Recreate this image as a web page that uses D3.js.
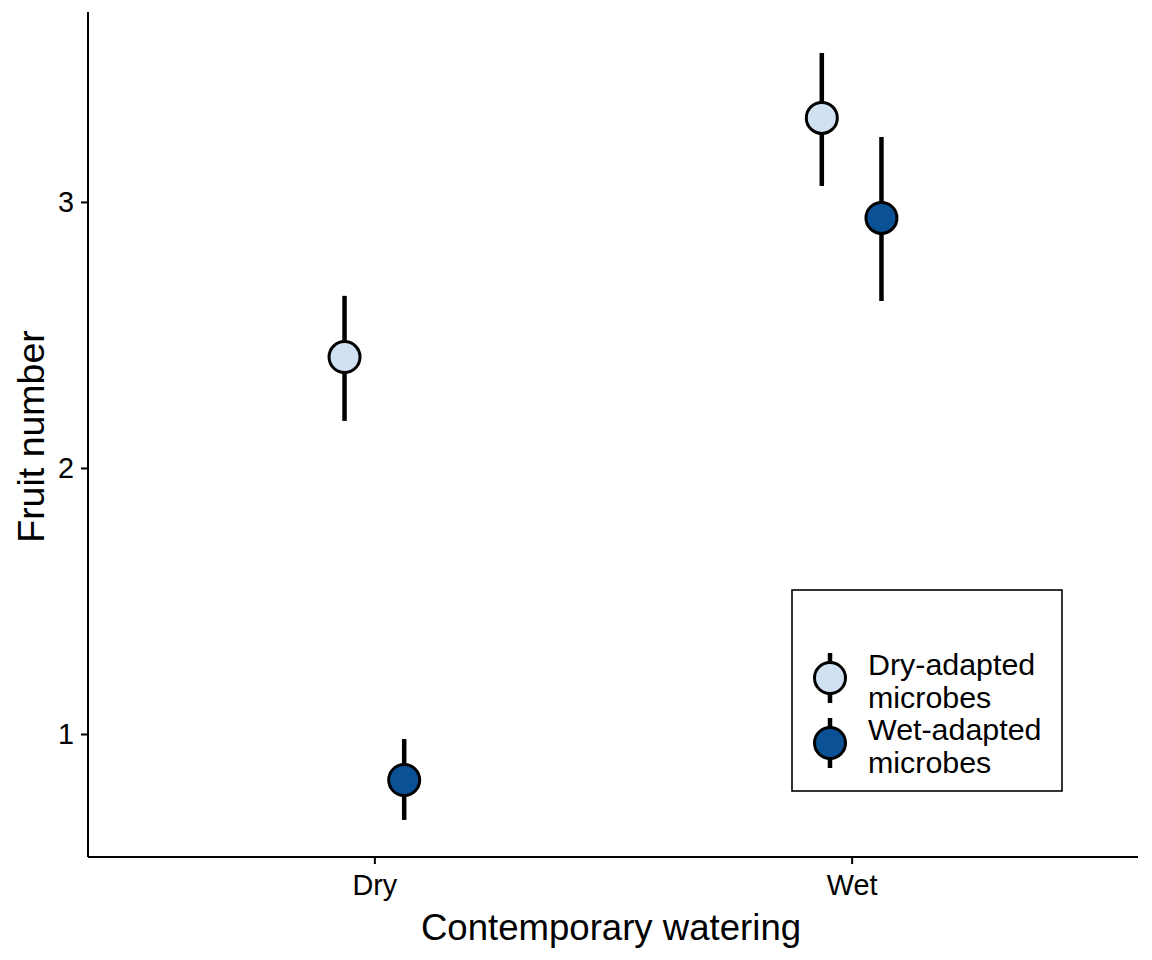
<!DOCTYPE html>
<html>
<head>
<meta charset="utf-8">
<script src="https://cdn.jsdelivr.net/npm/d3@7"></script>
<style>
  html, body { margin: 0; padding: 0; background: #ffffff; }
  svg { display: block; font-family: "Liberation Sans", Arial, sans-serif; }
</style>
</head>
<body>
<svg id="chart" width="1152" height="960"></svg>
<script>
// ---- data ----
const categories = ["Dry", "Wet"];
const groups = ["Dry-adapted microbes", "Wet-adapted microbes"];
const groupLabels = [["Dry-adapted", "microbes"], ["Wet-adapted", "microbes"]];
const dryAdaptedMean = [2.417, 3.316];
const dryAdaptedLow  = [2.177, 3.060];
const dryAdaptedHigh = [2.647, 3.560];
const wetAdaptedMean = [0.827, 2.940];
const wetAdaptedLow  = [0.677, 2.628];
const wetAdaptedHigh = [0.981, 3.244];
const yTicks = [1, 2, 3];
const groupColors = ["#cfe1f2", "#0b5195"];

const rows = [];
categories.forEach((c, i) => {
  rows.push({cat: c, g: 0, mean: dryAdaptedMean[i], lo: dryAdaptedLow[i], hi: dryAdaptedHigh[i]});
  rows.push({cat: c, g: 1, mean: wetAdaptedMean[i], lo: wetAdaptedLow[i], hi: wetAdaptedHigh[i]});
});

// ---- layout ----
const svg = d3.select("#chart");
const pLeft = 88, pRight = 1138, pTop = 12, pBottom = 857;

const x = d3.scalePoint().domain(categories).range([pLeft, pRight]).padding(0.6);
const y = d3.scaleLinear().domain([0.5376, 3.714]).range([pBottom, pTop]);
const dodge = x.step() * 0.25;
const xPos = d => x(d.cat) + (d.g === 0 ? -dodge / 4 : dodge / 4);

// axes
const xAxis = svg.append("g").attr("transform", `translate(0,${pBottom})`)
  .call(d3.axisBottom(x).tickSize(7).tickPadding(11));
const yAxis = svg.append("g").attr("transform", `translate(${pLeft},0)`)
  .call(d3.axisLeft(y).tickValues(yTicks).tickSize(7).tickPadding(7).tickFormat(d3.format("d")));
[xAxis, yAxis].forEach(a => {
  a.select(".domain").attr("stroke", "#000").attr("stroke-width", 2);
  a.selectAll(".tick line").attr("stroke", "#000").attr("stroke-width", 2);
  a.selectAll(".tick text").attr("fill", "#000").attr("font-size", 28.8)
    .attr("font-family", "Liberation Sans, Arial, sans-serif");
});
xAxis.select(".domain").attr("d", `M${pLeft},0H${pRight}`);
yAxis.select(".domain").attr("d", `M0,${pBottom}V${pTop}`);

// axis titles
svg.append("text").attr("x", (pLeft + pRight) / 2 - 2).attr("y", 940)
  .attr("text-anchor", "middle").attr("font-size", 36.6).attr("fill", "#000")
  .text("Contemporary watering");
svg.append("text").attr("transform", `translate(44,${(pTop + pBottom) / 2 + 2}) rotate(-90)`)
  .attr("text-anchor", "middle").attr("font-size", 37.5).attr("fill", "#000")
  .text("Fruit number");

// error bars
svg.append("g").selectAll("line").data(rows).join("line")
  .attr("x1", xPos).attr("x2", xPos)
  .attr("y1", d => y(d.lo)).attr("y2", d => y(d.hi))
  .attr("stroke", "#000").attr("stroke-width", 4.5);

// points
svg.append("g").selectAll("circle").data(rows).join("circle")
  .attr("cx", xPos).attr("cy", d => y(d.mean)).attr("r", 15.5)
  .attr("fill", d => groupColors[d.g]).attr("stroke", "#000").attr("stroke-width", 3);

// legend
const lg = svg.append("g");
lg.append("rect").attr("x", 792).attr("y", 590).attr("width", 270).attr("height", 201)
  .attr("fill", "#fff").attr("stroke", "#000").attr("stroke-width", 1.6);
const keyY = [678, 743];
groups.forEach((g, i) => {
  const k = lg.append("g").attr("transform", `translate(830,${keyY[i]})`);
  k.append("line").attr("y1", -25).attr("y2", 25).attr("stroke", "#000").attr("stroke-width", 4.5);
  k.append("circle").attr("r", 15.5).attr("fill", groupColors[i]).attr("stroke", "#000").attr("stroke-width", 3);
  groupLabels[i].forEach((t, j) => {
    lg.append("text").attr("x", 868).attr("y", keyY[i] - 3 + j * 33)
      .attr("font-size", 30.4).attr("fill", "#000").text(t);
  });
});
</script>
</body>
</html>
